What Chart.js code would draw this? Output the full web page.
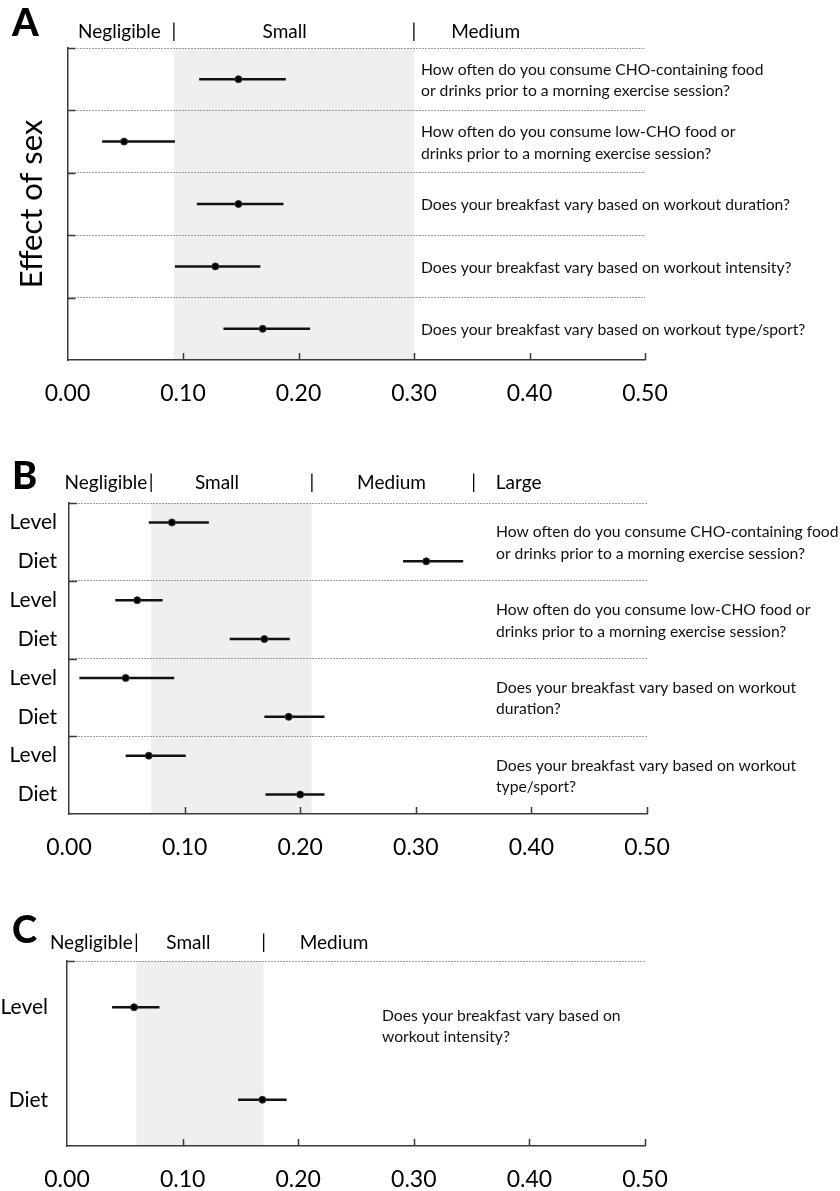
<!DOCTYPE html>
<html>
<head>
<meta charset="utf-8">
<script src="https://cdn.jsdelivr.net/npm/chart.js@4.4.1/dist/chart.umd.min.js"></script>
<style>
  body { margin: 0; background: #fff; }
  #wrap { position: relative; width: 840px; height: 1191px; }
  canvas { position: absolute; left: 0; }
</style>
</head>
<body>
<div id="wrap">
  <canvas id="chartA" width="840" height="420" style="top:0px"></canvas>
  <canvas id="chartB" width="840" height="420" style="top:440px"></canvas>
  <canvas id="chartC" width="840" height="311" style="top:880px"></canvas>
</div>
<script>
var xTickValues = [0, 0.1, 0.2, 0.3, 0.4, 0.5];
var rowNames = ['Level', 'Diet'];

// A: effect of sex
var questionsA = [
  ['How often do you consume CHO-containing food', 'or drinks prior to a morning exercise session?'],
  ['How often do you consume low-CHO food or', 'drinks prior to a morning exercise session?'],
  ['Does your breakfast vary based on workout duration?'],
  ['Does your breakfast vary based on workout intensity?'],
  ['Does your breakfast vary based on workout type/sport?']
];
var sexEst  = [0.148, 0.049, 0.148, 0.128, 0.169];
var sexLow  = [0.114, 0.030, 0.112, 0.093, 0.135];
var sexHigh = [0.189, 0.093, 0.187, 0.167, 0.210];
var zonesA = ['Negligible', 'Small', 'Medium'];
var cutsA = [0.092, 0.30];

// B: level and diet
var questionsB = [
  ['How often do you consume CHO-containing food', 'or drinks prior to a morning exercise session?'],
  ['How often do you consume low-CHO food or', 'drinks prior to a morning exercise session?'],
  ['Does your breakfast vary based on workout', 'duration?'],
  ['Does your breakfast vary based on workout', 'type/sport?']
];
var levelEstB  = [0.089, 0.059, 0.049, 0.069];
var levelLowB  = [0.069, 0.040, 0.009, 0.049];
var levelHighB = [0.121, 0.081, 0.091, 0.101];
var dietEstB   = [0.309, 0.169, 0.190, 0.200];
var dietLowB   = [0.289, 0.139, 0.169, 0.170];
var dietHighB  = [0.341, 0.191, 0.221, 0.221];
var zonesB = ['Negligible', 'Small', 'Medium', 'Large'];
var cutsB = [0.071, 0.21, 0.35];

// C: level and diet, one question
var questionsC = [
  ['Does your breakfast vary based on', 'workout intensity?']
];
var levelEstC  = [0.058];
var levelLowC  = [0.039];
var levelHighC = [0.080];
var dietEstC   = [0.169];
var dietLowC   = [0.148];
var dietHighC  = [0.190];
var zonesC = ['Negligible', 'Small', 'Medium'];
var cutsC = [0.06, 0.17];

var FONT = 'Lato, "DejaVu Sans", sans-serif';
var AXIS = '#3a3a3a';

var forestPlugin = {
  id: 'forest',
  beforeDraw: function(chart, args, o) {
    var ctx = chart.ctx, a = chart.chartArea, x = chart.scales.x;
    var x0 = x.getPixelForValue(o.cuts[0]);
    var x1 = x.getPixelForValue(o.cuts[1]);
    ctx.save();
    ctx.fillStyle = '#efefef';
    ctx.fillRect(x0, a.top, x1 - x0, a.bottom - a.top);
    ctx.restore();
  },
  afterDraw: function(chart, args, o) {
    var ctx = chart.ctx, a = chart.chartArea, x = chart.scales.x, y = chart.scales.y;
    ctx.save();
    // inward ticks
    ctx.strokeStyle = AXIS;
    ctx.lineWidth = 1.5;
    ctx.beginPath();
    for (var g = 0; g < o.groups; g++) {
      var py = Math.round(y.getPixelForValue(g * o.perGroup)) + 0.5;
      ctx.moveTo(a.left, py);
      ctx.lineTo(a.left + 8, py);
    }
    xTickValues.slice(1).forEach(function(v) {
      var px = Math.round(x.getPixelForValue(v)) + 0.5;
      ctx.moveTo(px, a.bottom);
      ctx.lineTo(px, a.bottom - 7);
    });
    ctx.stroke();

    // panel letter
    ctx.fillStyle = '#000';
    ctx.textBaseline = 'middle';
    ctx.textAlign = 'left';
    ctx.font = '900 38px ' + FONT;
    ctx.fillText(o.letter, 12, o.letterY);

    // effect size zones
    ctx.font = '19px ' + FONT;
    ctx.textAlign = 'center';
    o.cuts.forEach(function(c) {
      ctx.fillText('|', x.getPixelForValue(c), o.headY);
    });
    o.zones.forEach(function(z, i) {
      ctx.fillText(z, x.getPixelForValue(o.zoneAt[i]), o.headY);
    });

    // questions
    ctx.font = '15.7px ' + FONT;
    ctx.textAlign = 'left';
    ctx.fillStyle = '#111';
    o.questions.forEach(function(lines, i) {
      var cy = y.getPixelForValue(i * o.perGroup + o.perGroup / 2 + o.qShift);
      var top = cy - (lines.length - 1) * 21.5 / 2;
      lines.forEach(function(t, k) {
        ctx.fillText(t, o.qx, top + k * 21.5);
      });
    });
    ctx.restore();
  }
};

function makeForest(id, rows, p) {
  var nMax = p.groups * p.perGroup;
  var datasets = [{
    data: rows.map(function(r) { return {x: r.est, y: r.y}; }),
    pointRadius: 3.5,
    pointHoverRadius: 3.5,
    backgroundColor: '#000',
    borderColor: '#333',
    borderWidth: 1,
    showLine: false
  }];
  rows.forEach(function(r) {
    datasets.push({
      data: [{x: r.low, y: r.y}, {x: r.high, y: r.y}],
      showLine: true,
      pointRadius: 0,
      borderColor: '#111',
      borderWidth: 2.5
    });
  });
  return new Chart(document.getElementById(id), {
    type: 'scatter',
    data: {datasets: datasets},
    plugins: [forestPlugin],
    options: {
      responsive: false,
      animation: false,
      events: [],
      layout: {padding: {top: p.top, right: p.right, left: 0, bottom: 0}},
      plugins: {
        legend: {display: false},
        tooltip: {enabled: false},
        forest: p
      },
      scales: {
        x: {
          type: 'linear', min: 0, max: 0.5,
          afterBuildTicks: function(s) { s.ticks = xTickValues.map(function(v) { return {value: v}; }); },
          afterFit: function(s) { s.height = p.xHeight; },
          grid: {display: false, drawTicks: false},
          border: {display: true, color: AXIS, width: 1.5},
          ticks: {
            padding: 20, color: '#000', maxRotation: 0,
            font: {family: FONT, size: 23},
            callback: function(v) { return v.toFixed(2); }
          }
        },
        y: {
          type: 'linear', min: 0, max: nMax, reverse: true,
          afterBuildTicks: function(s) {
            var t = [];
            for (var i = 0; i <= nMax * 2; i++) t.push({value: i / 2});
            s.ticks = t;
          },
          afterFit: function(s) { s.width = p.left; },
          grid: {
            drawTicks: false,
            lineWidth: 1,
            color: function(c) {
              var v = c.tick.value;
              return (v % p.perGroup === 0 && v < nMax) ? '#444' : 'rgba(0,0,0,0)';
            }
          },
          border: {display: true, color: AXIS, width: 1.5, dash: [1, 2]},
          title: {
            display: !!p.title, text: p.title || '', color: '#000',
            font: {family: FONT, size: 31}, padding: {top: 13, bottom: 0}
          },
          ticks: {
            autoSkip: false, padding: p.labelPad, color: '#000',
            font: {family: FONT, size: 21},
            callback: function(v) {
              if (!p.rowLabels) return '';
              var f = v - Math.floor(v);
              if (f !== 0.5) return '';
              return p.rowLabels[Math.floor(v) % p.perGroup];
            }
          }
        }
      }
    }
  });
}

// panel A rows
var rowsA = sexEst.map(function(e, i) {
  return {est: e, low: sexLow[i], high: sexHigh[i], y: i + 0.5};
});
makeForest('chartA', rowsA, {
  letter: 'A', letterY: 24, headY: 32, top: 48, left: 67.5, right: 195, xHeight: 60,
  groups: 5, perGroup: 1, cuts: cutsA, zones: zonesA, zoneAt: [0.045, 0.188, 0.362],
  questions: questionsA, qx: 421, qShift: 0.02, title: 'Effect of sex', labelPad: 12
});

function pairRows(le, ll, lh, de, dl, dh) {
  var r = [];
  le.forEach(function(e, g) {
    r.push({est: e, low: ll[g], high: lh[g], y: 2 * g + 0.5});
    r.push({est: de[g], low: dl[g], high: dh[g], y: 2 * g + 1.5});
  });
  return r;
}

makeForest('chartB', pairRows(levelEstB, levelLowB, levelHighB, dietEstB, dietLowB, dietHighB), {
  letter: 'B', letterY: 37, headY: 43, top: 63, left: 69, right: 193, xHeight: 46,
  groups: 4, perGroup: 2, cuts: cutsB, zones: zonesB, zoneAt: [0.032, 0.128, 0.279, 0.389],
  questions: questionsB, qx: 496, qShift: 0.03, rowLabels: rowNames, labelPad: 12
});

makeForest('chartC', pairRows(levelEstC, levelLowC, levelHighC, dietEstC, dietLowC, dietHighC), {
  letter: 'C', letterY: 51, headY: 63, top: 81, left: 67, right: 195, xHeight: 45,
  groups: 1, perGroup: 2, cuts: cutsC, zones: zonesC, zoneAt: [0.021, 0.105, 0.231],
  questions: questionsC, qx: 382, qShift: -0.29, rowLabels: rowNames, labelPad: 19
});
</script>
</body>
</html>
